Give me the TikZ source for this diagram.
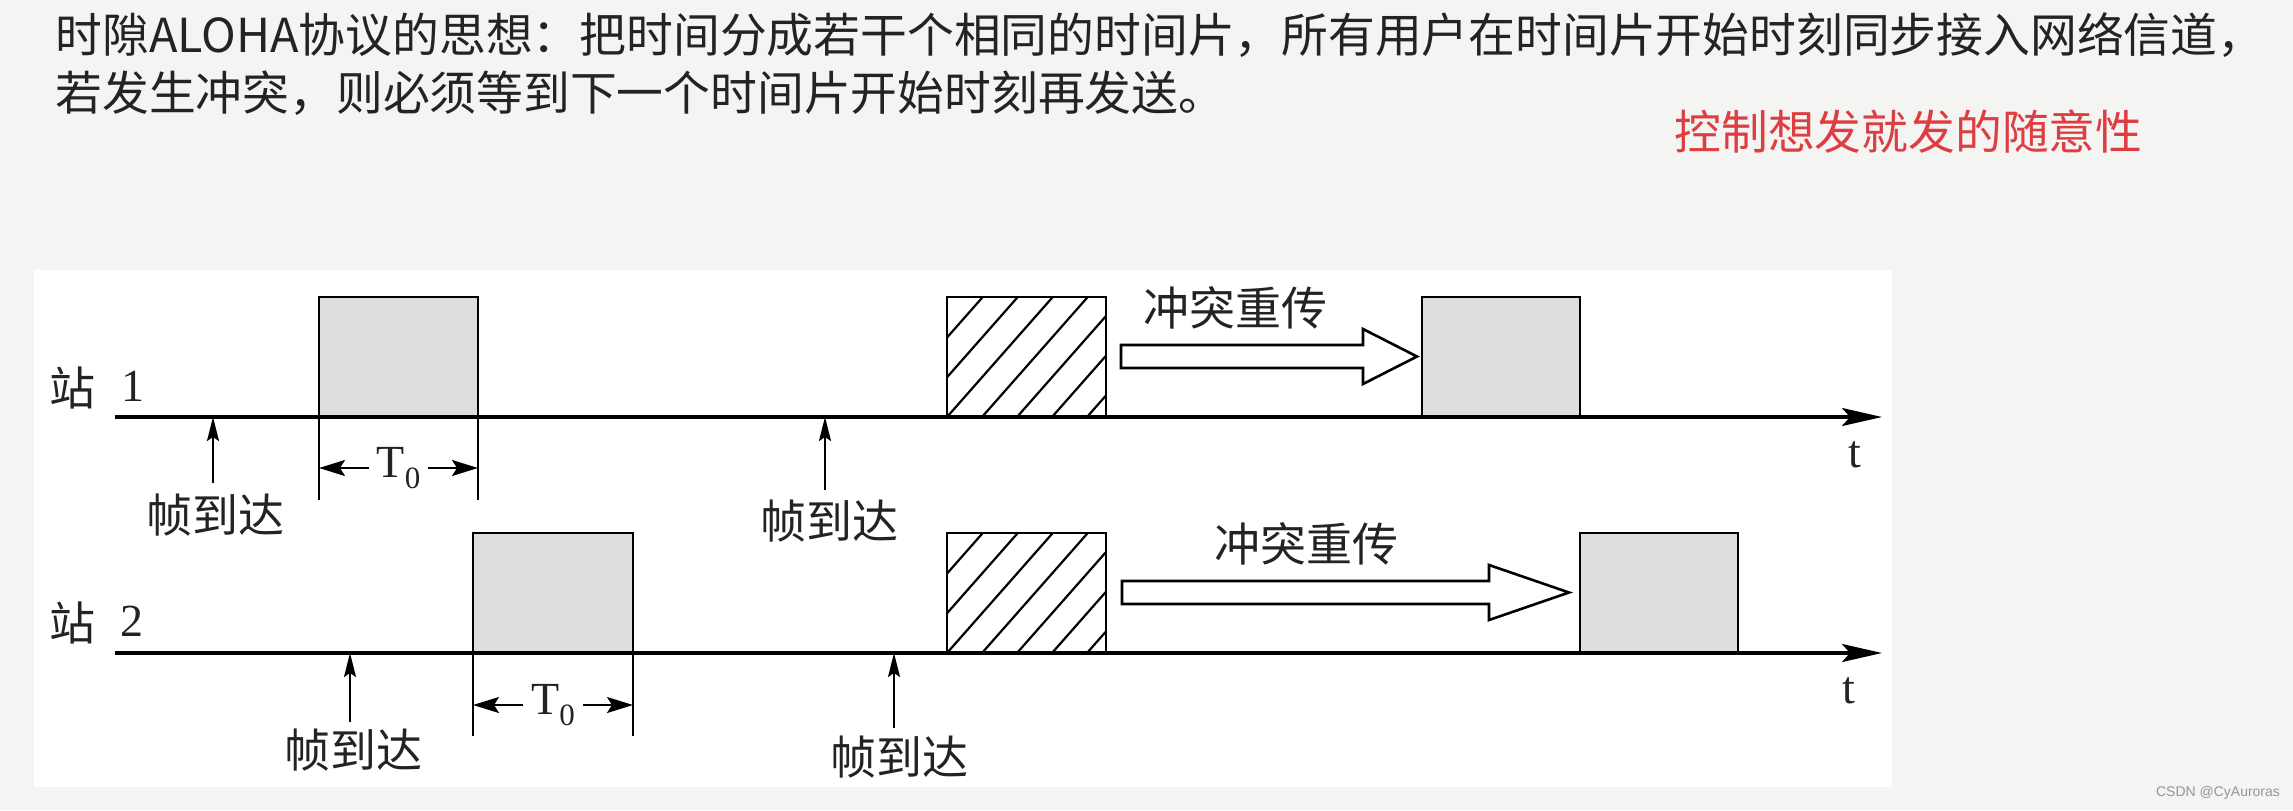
\documentclass[tikz,border=0pt]{standalone}
\usepackage{fontspec}
\setmainfont{Liberation Serif}
\newfontfamily\cjk{Noto Sans CJK SC}
\newfontfamily\wmfont{Liberation Sans}
\usetikzlibrary{arrows.meta}
\definecolor{bgc}{RGB}{244,244,242}
\definecolor{boxgray}{RGB}{222,222,222}
\definecolor{redtxt}{RGB}{222,62,66}
\definecolor{txt}{RGB}{35,35,35}
\definecolor{wm}{RGB}{150,150,150}
\tikzset{
  axisline/.style={line width=1.7pt, -{Stealth[length=20pt,width=9pt,inset=4pt]}},
  slotbox/.style={line width=1.4pt, fill=boxgray},
  hatchbox/.style={line width=1.4pt, fill=white},
  hatchline/.style={line width=1.1pt},
  arrival/.style={line width=1pt, -{Stealth[length=12pt,width=6pt,inset=2pt]}},
  extline/.style={line width=1pt},
  dimline/.style={line width=1pt, {Stealth[length=13pt,width=8pt,inset=2.5pt]}-{Stealth[length=13pt,width=8pt,inset=2.5pt]}},
  bigarrow/.style={line width=1.3pt, fill=white, line join=miter},
  dlabel/.style={font=\cjk\fontsize{23}{26}\selectfont, inner sep=0pt, text=txt},
  numlabel/.style={font=\fontsize{23}{26}\selectfont, inner sep=0pt, text=txt},
  titletext/.style={font=\cjk\fontsize{23.4}{28}\selectfont, inner sep=0pt, anchor=west, text=txt},
}
\begin{document}
\begin{tikzpicture}[x=0.5pt,y=-0.5pt]
\useasboundingbox (0,0) rectangle (2293,810);
\fill[bgc] (0,0) rectangle (2293,810);
\fill[white] (34,270) rectangle (1892,787);

% title texts
\node[titletext] (t1) at (55,35) {时隙ALOHA协议的思想：把时间分成若干个相同的时间片，所有用户在时间片开始时刻同步接入网络信道，};
\node[titletext] (t2) at (55,93) {若发生冲突，则必须等到下一个时间片开始时刻再发送。};
\node[titletext, text=redtxt] (red) at (1674,132) {控制想发就发的随意性};

% ===== Station 1 =====
\node[dlabel] (s1) at (72,388) {站};
\node[numlabel] (n1) at (133,386) {1};
% slots
\draw[slotbox] (319,417) -- (319,297) -- (478,297) -- (478,417);
\draw[hatchbox] (947,417) rectangle (1106,297);
\begin{scope}
  \clip (947,417) rectangle (1106,297);
  \foreach \k in {-4,...,5} \draw[hatchline] (947+35*\k,417) -- ++(141,-160);
\end{scope}
\draw[hatchbox, fill=none] (947,417) rectangle (1106,297);
\draw[slotbox] (1422,417) -- (1422,297) -- (1580,297) -- (1580,417);
% axis
\coordinate (ax1s) at (115,417);
\coordinate (ax1e) at (1882,417);
\draw[axisline] (ax1s) -- (ax1e);
\node[numlabel] (tt1) at (1855,455) {t};
% extension lines and T0
\coordinate (e1a) at (319,500);
\coordinate (e1b) at (478,500);
\draw[extline] (319,417) -- (e1a);
\draw[extline] (478,417) -- (e1b);
\coordinate (d1a) at (319,468);
\coordinate (d1b) at (478,468);
\draw[dimline] (d1a) -- node[numlabel, fill=white, inner xsep=4pt, inner ysep=1pt] (T01) {T\raisebox{-5.5pt}{\fontsize{15.5}{16}\selectfont 0}} (d1b);
% arrivals
\coordinate (a1s) at (213,483);
\coordinate (a1e) at (213,417);
\draw[arrival] (a1s) -- (a1e);
\node[dlabel] (f1) at (215,515) {帧到达};
\coordinate (a2s) at (825,490);
\coordinate (a2e) at (825,417);
\draw[arrival] (a2s) -- (a2e);
\node[dlabel] (f2) at (829,521) {帧到达};
% retransmission arrow
\draw[bigarrow] (1121,345) -- (1363,345) -- (1363,329) -- (1417,356.5) -- (1363,384) -- (1363,368) -- (1121,368) -- cycle;
\node[dlabel] (c1) at (1235,308) {冲突重传};

% ===== Station 2 =====
\node[dlabel] (s2) at (72,623) {站};
\node[numlabel] (n2) at (132,621) {2};
\draw[slotbox] (473,653) -- (473,533) -- (633,533) -- (633,653);
\draw[hatchbox] (947,653) rectangle (1106,533);
\begin{scope}
  \clip (947,653) rectangle (1106,533);
  \foreach \k in {-4,...,5} \draw[hatchline] (947+35*\k,653) -- ++(141,-160);
\end{scope}
\draw[hatchbox, fill=none] (947,653) rectangle (1106,533);
\draw[slotbox] (1580,653) -- (1580,533) -- (1738,533) -- (1738,653);
\coordinate (ax2s) at (115,653);
\coordinate (ax2e) at (1882,653);
\draw[axisline] (ax2s) -- (ax2e);
\node[numlabel] (tt2) at (1849,691) {t};
\coordinate (e2a) at (473,736);
\coordinate (e2b) at (633,736);
\draw[extline] (473,653) -- (e2a);
\draw[extline] (633,653) -- (e2b);
\coordinate (d2a) at (473,705);
\coordinate (d2b) at (633,705);
\draw[dimline] (d2a) -- node[numlabel, fill=white, inner xsep=4pt, inner ysep=1pt] (T02) {T\raisebox{-5.5pt}{\fontsize{15.5}{16}\selectfont 0}} (d2b);
\coordinate (b1s) at (350,722);
\coordinate (b1e) at (350,653);
\draw[arrival] (b1s) -- (b1e);
\node[dlabel] (g1) at (353,750) {帧到达};
\coordinate (b2s) at (894,728);
\coordinate (b2e) at (894,653);
\draw[arrival] (b2s) -- (b2e);
\node[dlabel] (g2) at (899,757) {帧到达};
\draw[bigarrow] (1122,581) -- (1489,581) -- (1489,565) -- (1569,592.5) -- (1489,620) -- (1489,604) -- (1122,604) -- cycle;
\node[dlabel] (c2) at (1306,544) {冲突重传};

% watermark
\node[font=\wmfont\fontsize{7}{8}\selectfont, text=wm, inner sep=0pt] (wmk) at (2218,793) {CSDN @CyAuroras};
\end{tikzpicture}
\end{document}
